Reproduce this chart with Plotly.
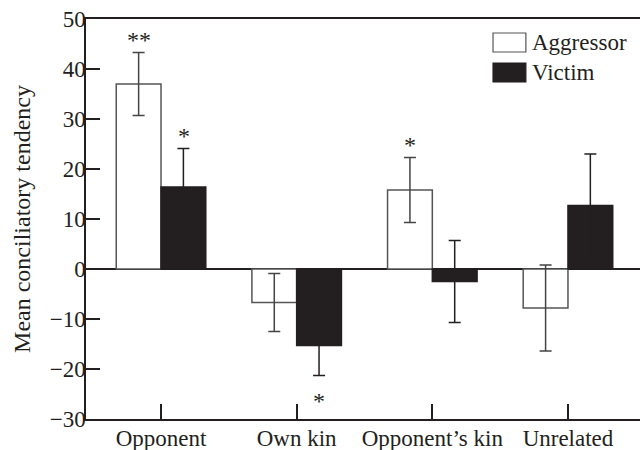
import plotly.graph_objects as go

# Mean conciliatory tendency by partner type
categories = ["Opponent", "Own kin", "Opponent\u2019s kin", "Unrelated"]
aggressor_mean = [37.0, -6.7, 15.8, -7.8]
aggressor_err = [6.3, 5.8, 6.5, 8.6]
aggressor_sig = ["**", "", "*", ""]
victim_mean = [16.4, -15.3, -2.5, 12.7]
victim_err = [7.7, 6.0, 8.2, 10.3]
victim_sig = ["*", "*", "", ""]
y_ticks = [-30, -20, -10, 0, 10, 20, 30, 40, 50]

FONT = "Liberation Serif"
INK = "#231f20"
SIZE = 23

fig = go.Figure()
fig.add_trace(go.Bar(
    name="Aggressor", x=categories, y=aggressor_mean,
    marker=dict(color="white", line=dict(color="#555555", width=1.5)),
    error_y=dict(type="data", array=aggressor_err, color="#444444",
                 thickness=1.5, width=6),
    showlegend=False,
))
fig.add_trace(go.Bar(
    name="Victim", x=categories, y=victim_mean,
    marker=dict(color=INK, line=dict(color=INK, width=1.5)),
    error_y=dict(type="data", array=victim_err, color=INK,
                 thickness=1.5, width=6),
    showlegend=False,
))

# significance stars above/below the error bars
def add_stars(means, errs, sigs, shift):
    for i, (m, e, s) in enumerate(zip(means, errs, sigs)):
        if not s:
            continue
        up = m >= 0
        fig.add_annotation(
            x=categories[i], y=m + e if up else m - e,
            xref="x", yref="y", text=s, showarrow=False,
            xshift=shift, yshift=13 if up else -25,
            yanchor="middle", font=dict(family=FONT, size=24, color=INK),
        )

add_stars(aggressor_mean, aggressor_err, aggressor_sig, -22.5)
add_stars(victim_mean, victim_err, victim_sig, 22.5)

# legend drawn as boxes with labels
legend_items = [("Aggressor", "white", "#555555", 0.965, 0.9175),
                ("Victim", INK, INK, 0.89, 0.8425)]
for label, fill, edge, y0, y1 in legend_items:
    fig.add_shape(type="rect", xref="paper", yref="paper",
                  x0=0.7347, x1=0.794, y0=y1, y1=y0,
                  fillcolor=fill, line=dict(color=edge, width=1.2))
    fig.add_annotation(xref="paper", yref="paper", x=0.802, y=(y0 + y1) / 2,
                       text=label, showarrow=False, xanchor="left",
                       yanchor="middle",
                       font=dict(family=FONT, size=SIZE, color=INK))

fig.update_layout(
    width=640, height=450,
    margin=dict(l=86, r=0, t=19, b=31),
    paper_bgcolor="white", plot_bgcolor="white",
    barmode="group", bargap=0.34, bargroupgap=0,
    font=dict(family=FONT, size=SIZE, color=INK),
    xaxis=dict(
        range=[-0.553, 3.531], showgrid=False, showline=True,
        linecolor=INK, linewidth=1.5, mirror=True, automargin=False,
        ticks="inside", ticklen=15, tickwidth=1.5, tickcolor=INK,
        ticklabelstandoff=-2,
        tickfont=dict(family=FONT, size=SIZE, color=INK),
    ),
    yaxis=dict(
        range=[-30, 50], tickvals=y_ticks, automargin=False,
        ticktext=[("\u2212" + str(-v)) if v < 0 else str(v) for v in y_ticks],
        showgrid=False, showline=True, linecolor=INK, linewidth=1.5,
        zeroline=True, zerolinecolor=INK, zerolinewidth=1.5,
        ticks="inside", ticklen=14, tickwidth=1.5, tickcolor=INK,
        ticklabelstandoff=-6,
        tickfont=dict(family=FONT, size=SIZE, color=INK),
        title=dict(text="Mean conciliatory tendency", standoff=12,
                   font=dict(family=FONT, size=24, color=INK)),
    ),
)

fig.write_html("out.html")
